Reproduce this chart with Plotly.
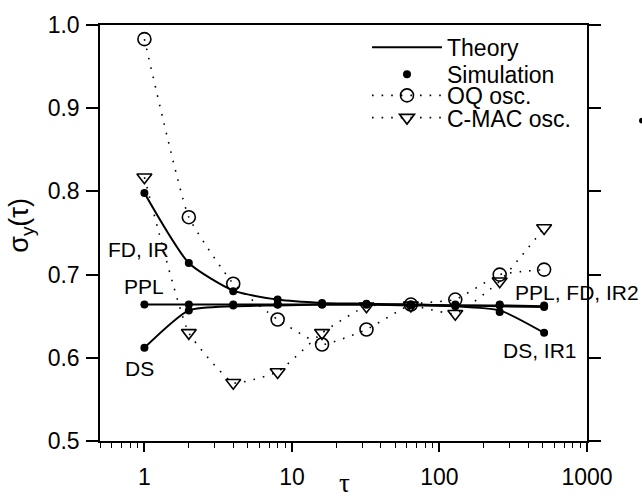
import plotly.graph_objects as go

tau = [1, 2, 4, 8, 16, 32, 64, 128, 256, 512]

theory_fd = [0.798, 0.714, 0.681, 0.670, 0.666, 0.665, 0.664, 0.663, 0.662, 0.661]
theory_ppl = [0.664, 0.664, 0.664, 0.664, 0.664, 0.664, 0.664, 0.663, 0.663, 0.662]
theory_ds = [0.612, 0.657, 0.662, 0.663, 0.664, 0.664, 0.663, 0.662, 0.657, 0.630]

sim_fd = [0.798, 0.714, 0.680, 0.670, 0.666, 0.665, 0.664, 0.664, 0.663, 0.661]
sim_ppl = [0.664, 0.664, 0.664, 0.664, 0.664, 0.664, 0.664, 0.663, 0.664, 0.663]
sim_ds = [0.612, 0.657, 0.663, 0.664, 0.664, 0.664, 0.663, 0.662, 0.655, 0.630]

oq_osc = [0.983, 0.769, 0.689, 0.646, 0.616, 0.634, 0.664, 0.670, 0.700, 0.706]
cmac_osc = [0.817, 0.630, 0.570, 0.583, 0.630, 0.662, 0.663, 0.653, 0.692, 0.756]

x_ticks = [1, 10, 100, 1000]
x_ticktext = ["1", "10", "100", "1000"]
y_ticks = [0.5, 0.6, 0.7, 0.8, 0.9, 1.0]

FONT = "Arial, Liberation Sans, sans-serif"
SERIF = "Liberation Serif, DejaVu Serif, serif"

fig = go.Figure()

for i, ys in enumerate([theory_fd, theory_ppl, theory_ds]):
    fig.add_trace(go.Scatter(
        x=tau, y=ys, mode="lines", name="Theory",
        line=dict(color="black", width=2, shape="spline", smoothing=0.6),
        legend="legend", legendgroup="theory", showlegend=(i == 0)))

for i, ys in enumerate([sim_fd, sim_ppl, sim_ds]):
    fig.add_trace(go.Scatter(
        x=tau, y=ys, mode="markers", name="Simulation",
        marker=dict(symbol="circle", size=8, color="black"),
        legend="legend2", legendgroup="sim", showlegend=(i == 0)))

fig.add_trace(go.Scatter(
    x=tau, y=oq_osc, mode="lines+markers", name="OQ osc.", legend="legend3",
    line=dict(color="black", width=1.6, dash="1.6px,8px", shape="spline", smoothing=0.4),
    marker=dict(symbol="circle-open", size=13, color="black", line=dict(width=1.6, color="black"))))

fig.add_trace(go.Scatter(
    x=tau, y=cmac_osc, mode="lines+markers", name="C-MAC osc.", legend="legend4",
    line=dict(color="black", width=1.6, dash="1.6px,8px", shape="spline", smoothing=0.4),
    marker=dict(symbol="triangle-down-open", size=13, color="black", line=dict(width=1.6, color="black"))))

W, H = 642, 502
L, R, T, B = 100, 55, 18, 53
pw, ph = W - L - R, H - T - B

def px(x):
    return (x - L) / pw

def py(y):
    return (H - B - y) / ph

annos = [
    ("FD, IR", 106, 251),
    ("PPL", 122, 289),
    ("DS", 123, 374),
    ("PPL, FD, IR2", 513, 295),
    ("DS, IR1", 501, 355),
]
for text, x, y in annos:
    fig.add_annotation(text=text, x=px(x), y=py(y), xref="paper", yref="paper",
                       xanchor="left", yanchor="middle", showarrow=False,
                       font=dict(family=FONT, size=21, color="black"))

fig.add_annotation(text="τ", x=px(344), y=py(492), xref="paper", yref="paper",
                   xanchor="center", yanchor="middle", showarrow=False,
                   font=dict(family=SERIF, size=27, color="black"))
fig.add_annotation(text="σ<sub>y</sub>(τ)", x=px(21), y=py(226), xref="paper", yref="paper",
                   xanchor="center", yanchor="middle", showarrow=False, textangle=-90,
                   font=dict(family=FONT, size=27, color="black"))

fig.add_shape(type="circle", xref="paper", yref="paper",
              x0=px(639), x1=px(645), y0=py(114), y1=py(120),
              fillcolor="black", line=dict(width=0))

leg_common = dict(xanchor="left", yanchor="middle", bgcolor="rgba(0,0,0,0)",
                  borderwidth=0, itemwidth=70, font=dict(family=FONT, size=23))
leg_x = px(367)

fig.update_layout(
    width=W, height=H,
    margin=dict(l=L, r=R, t=T, b=B),
    paper_bgcolor="white", plot_bgcolor="white",
    font=dict(family=FONT, size=23, color="black"),
    showlegend=True,
    legend=dict(x=leg_x, y=py(41), **leg_common),
    legend2=dict(x=leg_x, y=py(69), **leg_common),
    legend3=dict(x=leg_x, y=py(91), **leg_common),
    legend4=dict(x=leg_x, y=py(114), **leg_common),
    xaxis=dict(type="log", range=[-0.30103, 3.0], showgrid=False, zeroline=False,
               showline=True, linecolor="black", linewidth=1.5, mirror=True,
               ticks="outside", ticklen=9, tickwidth=1.5, tickcolor="black",
               tickvals=x_ticks, ticktext=x_ticktext,
               tickfont=dict(family=FONT, size=23), ticklabelstandoff=6,
               minor=dict(ticks="outside", ticklen=5, tickwidth=1.2, tickcolor="black",
                          dtick="D1", showgrid=False)),
    yaxis=dict(range=[0.5, 1.0], showgrid=False, zeroline=False,
               showline=True, linecolor="black", linewidth=1.5, mirror="ticks",
               ticks="outside", ticklen=12, tickwidth=1.5, tickcolor="black",
               tickvals=y_ticks, tickformat=".1f",
               tickfont=dict(family=FONT, size=23), ticklabelstandoff=2),
)

fig.write_html("out.html")
